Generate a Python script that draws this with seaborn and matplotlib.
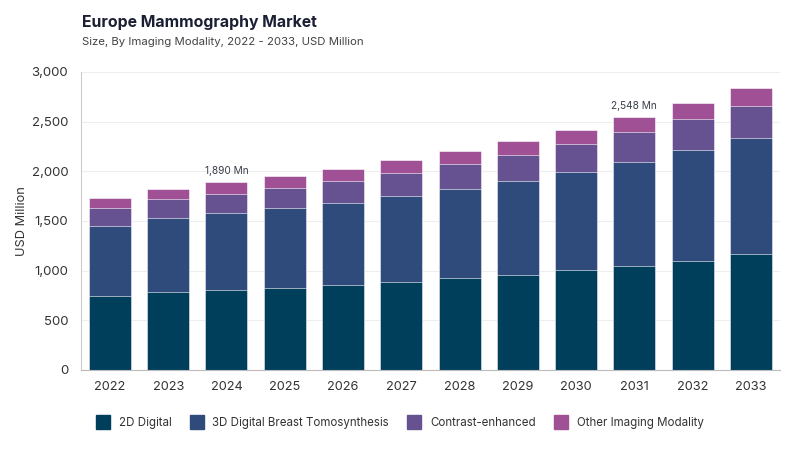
import matplotlib
matplotlib.use("Agg")
import matplotlib.pyplot as plt
import seaborn as sns
import pandas as pd
import numpy as np
from matplotlib.lines import Line2D

years = ["2022", "2023", "2024", "2025", "2026", "2027", "2028", "2029", "2030", "2031", "2032", "2033"]
digital_2d = [748, 788, 809, 829, 859, 889, 923, 960, 1004, 1050, 1101, 1165]
dbt_3d = [705, 746, 769, 806, 826, 866, 903, 947, 993, 1048, 1111, 1168]
contrast = [181, 191, 198, 201, 218, 232, 245, 261, 276, 295, 312, 328]
other = [95, 98, 114, 118, 121, 125, 131, 138, 147, 155, 161, 176]
series_names = ["2D Digital", "3D Digital Breast Tomosynthesis", "Contrast-enhanced", "Other Imaging Modality"]
colors = ["#003f5c", "#2f4b7c", "#665191", "#a05195"]
annot_years = ["2024", "2031"]
annot_labels = ["1,890 Mn", "2,548 Mn"]

sns.set_theme(style="white")
plt.rcParams["font.family"] = ["Inter", "DejaVu Sans"]

fig = plt.figure(figsize=(8, 4.5), dpi=100)
ax = fig.add_axes([0.101, 0.178, 0.874, 0.662])

series = [digital_2d, dbt_3d, contrast, other]
cum = np.cumsum(np.array(series), axis=0)
for i in range(len(series) - 1, -1, -1):
    df = pd.DataFrame({"year": years, "value": cum[i]})
    sns.barplot(data=df, x="year", y="value", color=colors[i], ax=ax,
                width=0.72, edgecolor="#ffffff", linewidth=0.4, saturation=1)

for yr, lab in zip(annot_years, annot_labels):
    idx = years.index(yr)
    ax.text(idx, cum[-1][idx] + 60, lab, ha="center", va="bottom",
            fontsize=7.3, color="#3a3f4b")

ax.set_ylim(0, 3000)
ax.set_xlim(-0.5, len(years) - 0.5)
ax.set_yticks(range(0, 3001, 500))
ax.set_yticklabels([f"{v:,}" for v in range(0, 3001, 500)])
ax.yaxis.grid(True, color="#eeeeee", linewidth=0.8)
ax.set_axisbelow(True)
ax.tick_params(axis="y", labelsize=9.5, colors="#333333", length=0, pad=9)
ax.tick_params(axis="x", labelsize=9.2, colors="#333333", length=0, pad=8)
ax.set_xlabel("")
ax.set_ylabel("USD Million", fontsize=9.2, color="#333333", labelpad=3)
for s in ["top", "right"]:
    ax.spines[s].set_visible(False)
ax.spines["left"].set_color("#cccccc")
ax.spines["bottom"].set_color("#bbbbbb")
ax.spines["left"].set_linewidth(0.8)
ax.spines["bottom"].set_linewidth(0.8)

fig.text(0.1025, 0.951, "Europe Mammography Market", fontsize=11.4, fontweight="bold",
         color="#1b1f33", ha="left", va="center")
fig.text(0.1025, 0.906, "Size, By Imaging Modality, 2022 - 2033, USD Million", fontsize=8.2,
         color="#444444", ha="left", va="center")

handles = [Line2D([0], [0], marker="s", linestyle="", markersize=10.5,
                  markerfacecolor=c, markeredgecolor=c) for c in colors]
fig.legend(handles, series_names, loc="center", bbox_to_anchor=(0.497, 0.06), ncol=4,
           frameon=False, fontsize=8.3, handletextpad=0.35, columnspacing=1.2,
           labelcolor="#333333")

fig.savefig("out.png", dpi=100)
